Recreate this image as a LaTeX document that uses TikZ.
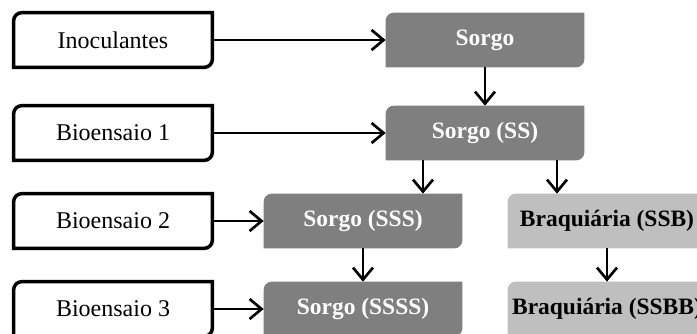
\documentclass[tikz,border=0pt]{standalone}
\usepackage{fontspec}
\setmainfont{Liberation Serif}
\usepackage{tikz}
\usetikzlibrary{arrows.meta, backgrounds}
\definecolor{darkbox}{HTML}{7F7F7F}
\definecolor{lightbox}{HTML}{BFBFBF}
\tikzstyle{stage} = [rectangle, minimum width=149pt, minimum height=41pt, inner sep=0pt, outer sep=0pt, text centered, font=\fontsize{18}{21}\selectfont]
\tikzstyle{trial} = [stage]
\tikzstyle{sorgo} = [stage, text=white, font=\fontsize{17.6}{21}\selectfont\bfseries]
\tikzstyle{braq} = [stage, text=black, font=\fontsize{17.6}{21}\selectfont\bfseries]
\tikzstyle{arrow} = [line width=2pt, -{Straight Barb[length=9pt, width=15pt]}]
% box with rounded top left and bottom right corners
\newcommand{\diagbox}[2]{%
  \path[#2] ([yshift=-6pt]#1.north west) arc[start angle=180, end angle=90, radius=6pt]
    -- (#1.north east) -- ([yshift=6pt]#1.south east)
    arc[start angle=0, end angle=-90, radius=6pt] -- (#1.south west) -- cycle;}

\begin{document}
\begin{tikzpicture}[node distance=66pt]
\clip (0,0) rectangle (522.75pt,-249.75pt);
\node (inoc) [trial] at (84.75pt,-30pt) {Inoculantes};
\node (bio1) [trial, below of=inoc, yshift=-3.75pt] {Bioensaio 1};
\node (bio2) [trial, below of=bio1] {Bioensaio 2};
\node (bio3) [trial, below of=bio2] {Bioensaio 3};
\node (sorgo) [sorgo, right of=inoc, xshift=213pt] {Sorgo};
\node (ss) [sorgo, below of=sorgo, yshift=-3.75pt] {Sorgo (SS)};
\node (sss) [sorgo, right of=bio2, xshift=121.5pt] {Sorgo (SSS)};
\node (ssss) [sorgo, below of=sss] {Sorgo (SSSS)};
\node (ssb) [braq, right of=sss, xshift=117pt] {Braquiária (SSB)};
\node (ssbb) [braq, below of=ssb] {Braquiária (SSBB)};

\begin{pgfonlayer}{background}
\diagbox{inoc}{draw=black, line width=2.6pt, fill=white}
\diagbox{bio1}{draw=black, line width=2.6pt, fill=white}
\diagbox{bio2}{draw=black, line width=2.6pt, fill=white}
\diagbox{bio3}{draw=black, line width=2.6pt, fill=white}
\diagbox{sorgo}{fill=darkbox}
\diagbox{ss}{fill=darkbox}
\diagbox{sss}{fill=darkbox}
\diagbox{ssss}{fill=darkbox}
\diagbox{ssb}{fill=lightbox}
\diagbox{ssbb}{fill=lightbox}
\end{pgfonlayer}

\draw [arrow] (inoc) -- (sorgo);
\draw [arrow] (bio1) -- (ss);
\draw [arrow] (bio2) -- (sss);
\draw [arrow] (bio3) -- (ssss);
\draw [arrow] (sorgo) -- (ss);
\draw [arrow] ([xshift=45pt]sss.north |- ss.south) -- ([xshift=45pt]sss.north);
\draw [arrow] ([xshift=-37.5pt]ssb.north |- ss.south) -- ([xshift=-37.5pt]ssb.north);
\draw [arrow] (sss) -- (ssss);
\draw [arrow] (ssb) -- (ssbb);
\end{tikzpicture}
\end{document}
